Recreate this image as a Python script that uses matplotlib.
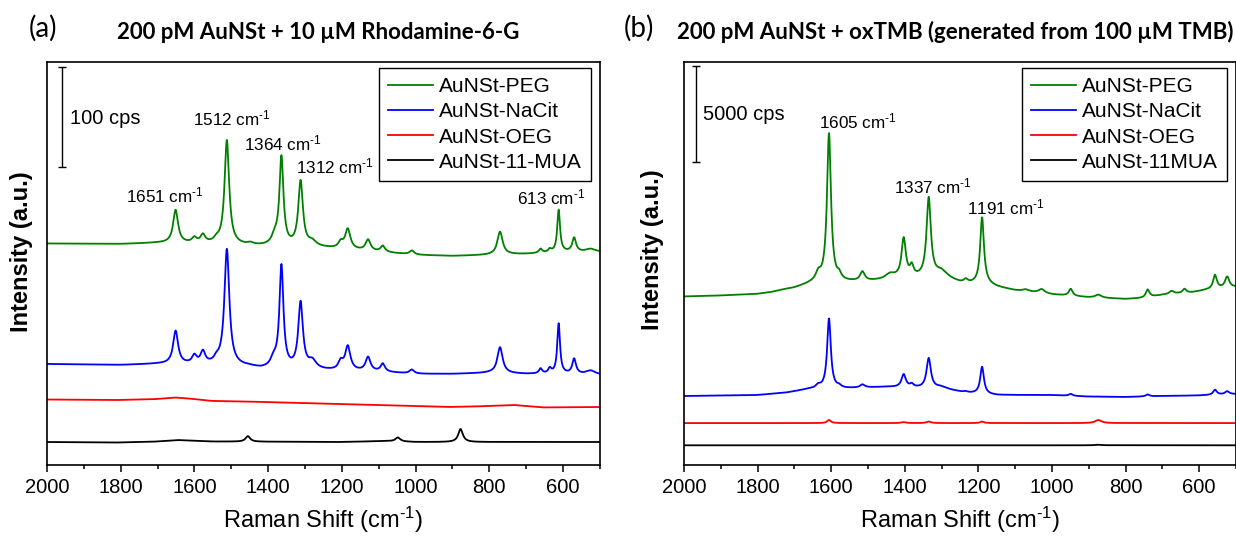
import numpy as np
import matplotlib
matplotlib.use("Agg")
import matplotlib.pyplot as plt
from matplotlib.ticker import MultipleLocator

plt.rcParams['font.family'] = ['Liberation Sans', 'DejaVu Sans']
plt.rcParams['mathtext.fontset'] = 'custom'
plt.rcParams['mathtext.rm'] = 'Liberation Sans'
plt.rcParams['mathtext.default'] = 'regular'

# --- data ---
# baselines are (shift, cps) anchors, peaks are (centre cm-1, height cps, fwhm cm-1)
labels_a = ['AuNSt-PEG', 'AuNSt-NaCit', 'AuNSt-OEG', 'AuNSt-11-MUA']
labels_b = ['AuNSt-PEG', 'AuNSt-NaCit', 'AuNSt-OEG', 'AuNSt-11MUA']
colors = ['#008000', '#0000ff', '#ff0000', '#000000']

# panel (a): 10 uM rhodamine-6-G, offset traces
peg_a_base_x = [2000, 1800, 1700, 1550, 1450, 1250, 1100, 1000, 900, 800, 700, 600, 500]
peg_a_base_y = [221.5, 221, 222, 221, 219, 217, 213, 210, 209, 210, 211, 213, 213]
peg_a_peaks = [(1651, 33, 16), (1600, 5, 15), (1577, 8, 15), (1540, 3, 15), (1512, 104, 15),
               (1448, 2, 20), (1382, 8, 20), (1364, 88, 13), (1312, 65, 15), (1280, 5, 25),
               (1203, 6, 15), (1184, 20, 17), (1129, 11, 16), (1089, 6, 14), (1010, 4, 15),
               (771, 23, 17), (661, 4, 10), (636, 3, 10), (612, 42, 9), (570, 14, 12), (525, 3, 30)]

nacit_a_base_x = [2000, 1800, 1700, 1550, 1450, 1420, 1300, 1200, 1100, 1000, 900, 800, 700, 600, 500]
nacit_a_base_y = [101, 100, 101, 100, 98, 96, 95, 94, 93, 91, 91, 92, 91, 91, 90]
nacit_a_peaks = [(1651, 33, 16), (1600, 8, 15), (1577, 12, 15), (1540, 4, 15), (1512, 116, 16),
                 (1385, 8, 20), (1364, 102, 13), (1312, 66, 15), (1280, 8, 25), (1203, 8, 15),
                 (1184, 24, 17), (1129, 14, 16), (1089, 8, 14), (1010, 4, 15), (771, 26, 17),
                 (661, 5, 10), (636, 5, 10), (612, 50, 9), (570, 15, 12), (525, 4, 30)]

oeg_a_base_x = [2000, 1800, 1700, 1650, 1600, 1550, 1400, 1200, 1000, 900, 800, 730, 650, 500]
oeg_a_base_y = [65.5, 65, 66, 67.5, 66, 64, 63, 61, 59, 58, 59, 60, 57.5, 58]
oeg_a_peaks = []

mua_a_base_x = [2000, 1800, 1700, 1640, 1550, 1200, 1080, 1000, 500]
mua_a_base_y = [23, 22.5, 23.5, 25, 23.5, 23, 24, 23, 23]
mua_a_peaks = [(1455, 5.5, 15), (1048, 4, 15), (878, 13, 15)]

# panel (b): oxTMB
peg_b_base_x = [2000, 1900, 1800, 1760, 1720, 1700, 1660, 1640, 1560, 1500, 1450, 1420, 1300,
                1250, 1220, 1180, 1150, 1100, 1000, 950, 900, 800, 750, 700, 620, 580, 500]
peg_b_base_y = [8720, 8770, 8850, 8950, 9110, 9160, 9370, 9470, 9470, 9500, 9570, 9630, 9680,
                9420, 9370, 9370, 9210, 9030, 8820, 8750, 8670, 8590, 8640, 8800, 8930, 9060, 9210]
peg_b_peaks = [(1635, 360, 15), (1606, 7660, 13), (1578, 260, 12), (1515, 470, 15), (1440, 260, 30),
               (1403, 2020, 14), (1381, 520, 12), (1335, 4090, 14), (1300, 310, 40), (1234, 160, 12),
               (1190, 3420, 12), (1071, 100, 20), (1028, 210, 20), (949, 360, 12), (874, 160, 20),
               (740, 410, 12), (675, 160, 15), (640, 210, 12), (557, 720, 12), (524, 570, 14)]

nacit_b_base_x = [2000, 1800, 1720, 1660, 1560, 1450, 1300, 1230, 1150, 1000, 900, 800, 700, 600, 500]
nacit_b_base_y = [3570, 3620, 3750, 3930, 3960, 4040, 3930, 3730, 3620, 3620, 3540, 3520, 3570, 3600, 3670]
nacit_b_peaks = [(1635, 160, 15), (1606, 3620, 12), (1578, 100, 12), (1515, 160, 15), (1403, 670, 14),
                 (1381, 160, 12), (1335, 1550, 14), (1300, 100, 40), (1234, 50, 12), (1190, 1400, 12),
                 (949, 100, 12), (740, 100, 12), (557, 260, 12), (524, 160, 14)]

oeg_b_base_x = [2000, 500]
oeg_b_base_y = [2170, 2170]
oeg_b_peaks = [(1606, 160, 12), (1403, 50, 14), (1335, 80, 14), (1190, 80, 12), (874, 160, 20)]

mua_b_base_x = [2000, 500]
mua_b_base_y = [1020, 1020]
mua_b_peaks = [(874, 30, 20)]

# peak labels: (text, shift, cps)
notes_a = [('1651', 1680, 270), ('1512', 1499, 347), ('1364', 1360, 322),
           ('1312', 1219, 299), ('613', 632, 268)]
notes_b = [('1605', 1526, 17770), ('1337', 1323, 14400), ('1191', 1125, 13340)]

wavenum = 'cm$^{\\text{-}1}$'


def spectrum(x, base_x, base_y, peaks):
    y = np.interp(x, base_x[::-1], base_y[::-1])
    for c, h, w in peaks:
        y = y + h / (1 + ((x - c) / (w / 2)) ** 2)
    return y


shift = np.linspace(500, 2000, 3001)

fig = plt.figure(figsize=(12.36, 5.44), dpi=100)
ax_a = fig.add_axes([0.0380, 0.1452, 0.4474, 0.7408])
ax_b = fig.add_axes([0.5534, 0.1452, 0.4466, 0.7408])

traces_a = [(peg_a_base_x, peg_a_base_y, peg_a_peaks),
            (nacit_a_base_x, nacit_a_base_y, nacit_a_peaks),
            (oeg_a_base_x, oeg_a_base_y, oeg_a_peaks),
            (mua_a_base_x, mua_a_base_y, mua_a_peaks)]
traces_b = [(peg_b_base_x, peg_b_base_y, peg_b_peaks),
            (nacit_b_base_x, nacit_b_base_y, nacit_b_peaks),
            (oeg_b_base_x, oeg_b_base_y, oeg_b_peaks),
            (mua_b_base_x, mua_b_base_y, mua_b_peaks)]

for ax, traces, labels in [(ax_a, traces_a, labels_a), (ax_b, traces_b, labels_b)]:
    for (bx, by, pk), lab, col in zip(traces, labels, colors):
        ax.plot(shift, spectrum(shift, bx, by, pk), color=col, lw=1.3, label=lab)
    ax.set_xlim(2000, 500)
    ax.set_yticks([])
    ax.xaxis.set_major_locator(MultipleLocator(200))
    ax.xaxis.set_minor_locator(MultipleLocator(100))
    ax.tick_params(axis='x', which='major', direction='out', length=5, width=1.1, labelsize=14.5, pad=4)
    ax.tick_params(axis='x', which='minor', direction='out', length=3, width=1.1)
    for s in ax.spines.values():
        s.set_linewidth(1.2)
    ax.set_xlabel('Raman Shift (' + wavenum + ')', fontsize=17, labelpad=6)
    ax.set_ylabel('Intensity (a.u.)', fontsize=17, fontweight='bold')
    ax.legend(loc='upper right', bbox_to_anchor=(0.984, 0.986), borderaxespad=0,
              fontsize=15, frameon=True, fancybox=False, edgecolor='black',
              handlelength=2.15, handletextpad=0.3, labelspacing=0.3, borderpad=0.45,
              framealpha=1)
    ax.get_legend().get_frame().set_linewidth(1.0)

ax_a.set_ylim(0, 403)
ax_b.set_ylim(0, 20855)
ax_a.yaxis.set_label_coords(-0.025, 0.53)
ax_b.yaxis.set_label_coords(-0.037, 0.535)

for txt, x, y in notes_a:
    ax_a.text(x, y, txt + ' ' + wavenum, fontsize=12.3, ha='center', va='center')
for txt, x, y in notes_b:
    ax_b.text(x, y, txt + ' ' + wavenum, fontsize=12.3, ha='center', va='center')

# scale bars
ax_a.errorbar([1960], [348], yerr=[50], color='black', lw=1, capsize=3, capthick=1)
ax_a.text(1937, 347, '100 cps', fontsize=14.5, ha='left', va='center')
ax_b.errorbar([1968], [18165], yerr=[2500], color='black', lw=1, capsize=3, capthick=1)
ax_b.text(1948, 18150, '5000 cps', fontsize=14.5, ha='left', va='center')

# panel letters and titles
fig.text(0.0348, 0.9485, '(a)', fontsize=20, family='Lato', ha='center', va='center')
fig.text(0.517, 0.9485, '(b)', fontsize=20, family='Lato', ha='center', va='center')
fig.text(0.2573, 0.941, '200 pM AuNSt + 10 µM Rhodamine-6-G', fontsize=16,
         family='Lato', fontweight='bold', ha='center', va='center')
fig.text(0.7727, 0.941, '200 pM AuNSt + oxTMB (generated from 100 µM TMB)', fontsize=16,
         family='Lato', fontweight='bold', ha='center', va='center')

fig.savefig('out.png', dpi=100)
